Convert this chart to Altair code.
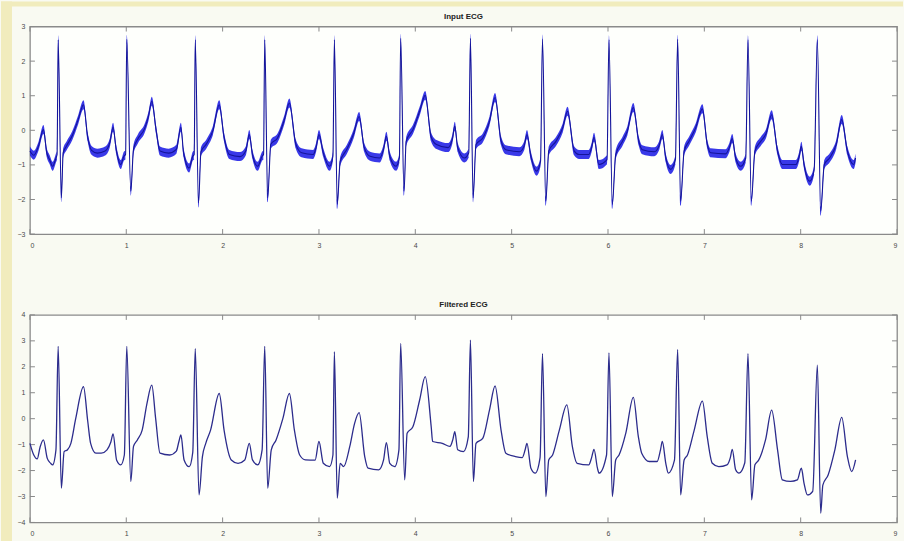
import altair as alt
import pandas as pd

# Raw (noisy) ECG trace: time in seconds, amplitude
input_t = [
    0.000, 0.040, 0.090, 0.140, 0.175, 0.205, 0.235, 0.270, 0.282, 0.293, 0.326, 0.345,
    0.380, 0.440, 0.500, 0.556, 0.600, 0.640, 0.700, 0.780, 0.830, 0.863, 0.895, 0.943,
    0.975, 0.993, 1.005, 1.047, 1.075, 1.120, 1.190, 1.230, 1.265, 1.310, 1.350, 1.440,
    1.520, 1.567, 1.595, 1.653, 1.690, 1.705, 1.716, 1.750, 1.775, 1.830, 1.900, 1.965,
    2.015, 2.070, 2.180, 2.240, 2.277, 2.310, 2.364, 2.410, 2.425, 2.437, 2.468, 2.500,
    2.570, 2.640, 2.693, 2.760, 2.820, 2.940, 2.970, 3.000, 3.045, 3.110, 3.145, 3.160,
    3.190, 3.220, 3.290, 3.360, 3.417, 3.470, 3.530, 3.630, 3.670, 3.700, 3.735, 3.800,
    3.835, 3.848, 3.883, 3.905, 3.975, 4.045, 4.103, 4.165, 4.220, 4.340, 4.385, 4.410,
    4.440, 4.510, 4.555, 4.572, 4.600, 4.630, 4.700, 4.770, 4.828, 4.890, 4.940, 5.080,
    5.130, 5.159, 5.200, 5.259, 5.300, 5.320, 5.355, 5.385, 5.460, 5.530, 5.580, 5.650,
    5.700, 5.800, 5.830, 5.855, 5.905, 5.990, 6.010, 6.045, 6.080, 6.150, 6.200, 6.263,
    6.320, 6.356, 6.480, 6.530, 6.564, 6.600, 6.650, 6.700, 6.723, 6.754, 6.790, 6.840,
    6.910, 6.980, 7.030, 7.066, 7.220, 7.260, 7.290, 7.325, 7.377, 7.430, 7.453, 7.488,
    7.525, 7.585, 7.640, 7.699, 7.760, 7.810, 7.950, 7.985, 8.007, 8.035, 8.094, 8.140,
    8.173, 8.208, 8.245, 8.300, 8.370, 8.426, 8.485, 8.550, 8.570,
]
input_v = [
    -0.60, -0.72, -0.45, 0.02, -0.65, -0.85, -1.04, -0.80, -0.70, 2.62, -1.95, -0.65,
    -0.45, -0.15, 0.30, 0.74, -0.20, -0.58, -0.66, -0.60, -0.35, 0.09, -0.55, -0.99,
    -0.75, -0.70, 2.63, -1.76, -0.55, -0.25, 0.05, 0.40, 0.84, 0.00, -0.60, -0.66,
    -0.55, 0.09, -0.65, -1.09, -0.75, -0.70, 2.62, -2.10, -0.62, -0.40, 0.00, 0.74,
    -0.20, -0.70, -0.76, -0.60, -0.12, -0.70, -1.04, -0.75, -0.70, 2.62, -1.95, -0.40,
    -0.22, 0.30, 0.79, -0.40, -0.65, -0.70, -0.50, -0.12, -0.65, -1.04, -0.75, 2.62,
    -2.14, -0.90, -0.55, -0.10, 0.40, -0.50, -0.75, -0.80, -0.55, -0.17, -0.75, -1.04,
    -0.80, 2.66, -1.76, -0.32, 0.02, 0.55, 1.01, -0.20, -0.41, -0.50, -0.25, 0.12,
    -0.50, -0.80, -0.65, 2.66, -1.95, -0.41, -0.22, 0.26, 0.95, -0.30, -0.56, -0.62,
    -0.45, -0.12, -0.75, -1.18, -0.90, 2.64, -2.05, -0.60, -0.32, 0.07, 0.55, -0.60,
    -0.70, -0.70, -0.50, -0.20, -0.99, -0.85, 2.62, -2.14, -0.70, -0.32, -0.03, 0.66,
    -0.32, -0.56, -0.62, -0.45, -0.12, -0.80, -1.13, -0.85, 2.63, -2.05, -0.60, -0.32,
    0.07, 0.62, -0.40, -0.65, -0.68, -0.50, -0.24, -0.80, -1.04, -0.80, 2.62, -2.05,
    -0.60, -0.32, -0.10, 0.45, -0.60, -0.99, -0.99, -0.75, -0.46, -0.99, -1.47, -1.15,
    2.62, -2.34, -0.99, -0.80, -0.40, 0.31, -0.60, -0.99, -0.80,
]

# Filtered ECG trace
filtered_t = [
    0.000, 0.040, 0.075, 0.105, 0.140, 0.180, 0.215, 0.235, 0.270, 0.293, 0.326, 0.355,
    0.390, 0.425, 0.475, 0.556, 0.600, 0.630, 0.685, 0.740, 0.800, 0.840, 0.863, 0.900,
    0.943, 0.980, 1.005, 1.047, 1.075, 1.115, 1.165, 1.215, 1.265, 1.305, 1.350, 1.450,
    1.520, 1.545, 1.567, 1.600, 1.653, 1.690, 1.716, 1.755, 1.790, 1.825, 1.875, 1.965,
    2.015, 2.090, 2.160, 2.230, 2.277, 2.310, 2.364, 2.410, 2.437, 2.468, 2.505, 2.555,
    2.625, 2.693, 2.745, 2.800, 2.860, 2.960, 3.000, 3.045, 3.110, 3.145, 3.160, 3.190,
    3.220, 3.255, 3.320, 3.370, 3.417, 3.475, 3.510, 3.620, 3.670, 3.700, 3.735, 3.786,
    3.830, 3.848, 3.890, 3.915, 3.975, 4.045, 4.103, 4.165, 4.180, 4.280, 4.360, 4.390,
    4.410, 4.440, 4.500, 4.550, 4.572, 4.603, 4.630, 4.700, 4.770, 4.828, 4.890, 4.940,
    5.040, 5.110, 5.140, 5.159, 5.200, 5.245, 5.295, 5.320, 5.355, 5.385, 5.425, 5.495,
    5.573, 5.630, 5.680, 5.800, 5.830, 5.855, 5.890, 5.907, 5.985, 6.010, 6.045, 6.080,
    6.115, 6.185, 6.263, 6.315, 6.350, 6.430, 6.510, 6.545, 6.564, 6.600, 6.626, 6.690,
    6.723, 6.754, 6.790, 6.825, 6.895, 6.980, 7.030, 7.083, 7.150, 7.235, 7.270, 7.290,
    7.325, 7.360, 7.420, 7.453, 7.491, 7.525, 7.565, 7.635, 7.699, 7.760, 7.810, 7.895,
    7.965, 8.007, 8.035, 8.070, 8.125, 8.173, 8.208, 8.230, 8.285, 8.355, 8.426, 8.485,
    8.530, 8.570,
]
filtered_v = [
    -0.95, -1.40, -1.55, -1.10, -0.82, -1.53, -1.72, -1.78, -1.20, 2.79, -2.68, -1.27,
    -1.20, -0.95, 0.00, 1.23, -0.10, -0.95, -1.33, -1.33, -1.20, -0.90, -0.59, -1.60,
    -1.78, -1.40, 2.79, -2.42, -1.07, -0.82, -0.44, 0.59, 1.29, 0.00, -1.33, -1.40,
    -1.25, -0.90, -0.63, -1.59, -1.85, -1.30, 2.70, -2.94, -1.47, -0.95, -0.44, 0.97,
    -0.44, -1.59, -1.72, -1.59, -0.95, -1.59, -1.78, -1.20, 2.79, -2.68, -1.20, -0.82,
    0.00, 0.97, -0.44, -1.40, -1.59, -1.60, -0.88, -1.72, -1.85, -1.40, 2.58, -3.06,
    -1.72, -1.85, -1.07, -0.18, 0.23, -1.46, -1.91, -1.97, -1.60, -0.92, -1.72, -1.85,
    -1.20, 2.90, -2.36, -0.56, -0.31, 0.72, 1.62, -0.31, -0.88, -0.95, -1.07, -0.80,
    -0.50, -1.20, -1.27, -0.70, 3.03, -2.42, -0.95, -0.76, 0.33, 1.26, -0.44, -1.33,
    -1.46, -1.50, -1.20, -0.95, -1.91, -2.10, -1.50, 2.51, -3.00, -1.59, -1.40, -0.44,
    0.53, -1.07, -1.72, -1.78, -1.50, -1.18, -1.90, -2.10, -1.40, 2.54, -3.00, -1.59,
    -1.40, -0.56, 0.82, -0.69, -1.33, -1.65, -1.65, -1.20, -0.88, -1.72, -2.10, -1.60,
    2.67, -2.94, -1.59, -1.40, -0.44, 0.68, -0.69, -1.72, -1.85, -1.78, -1.50, -1.18,
    -1.97, -2.10, -1.70, 2.51, -3.13, -1.78, -1.59, -0.82, 0.33, -1.20, -2.36, -2.42,
    -2.36, -1.91, -2.49, -2.94, -2.80, 2.06, -3.64, -2.56, -2.17, -1.20, 0.05, -1.46,
    -2.04, -1.59,
]

x_ticks = list(range(0, 10))
input_y_ticks = list(range(-3, 4))
filtered_y_ticks = list(range(-4, 5))

W, H = 869, 208
TICK = 5
FRAME = "#8a8a8a"
LABEL = "#4a4a4a"
FONT = "Liberation Sans"


def panel(trace, title, ydom, yticks, trace_layers, extra=None):
    x_scale = alt.Scale(domain=[0, 9], nice=False, zero=False)
    y_scale = alt.Scale(domain=ydom, nice=False, zero=False)
    x_axis = alt.Axis(values=x_ticks, ticks=False, domain=False, grid=False,
                      labelFontSize=7, labelColor=LABEL, labelFont=FONT,
                      labelPadding=7, title=None, format="d")
    y_axis = alt.Axis(values=yticks, ticks=False, domain=False, grid=False,
                      labelFontSize=7, labelColor=LABEL, labelFont=FONT,
                      labelPadding=5, title=None, format="d")
    x_enc = alt.X("t:Q", scale=x_scale, axis=x_axis)
    y_enc = alt.Y("v:Q", scale=y_scale, axis=y_axis)
    xt = pd.DataFrame({"t": x_ticks})
    yt = pd.DataFrame({"v": yticks})
    tick_style = dict(color=FRAME, strokeWidth=1)
    ticks = [
        alt.Chart(xt).mark_rule(**tick_style).encode(x=x_enc, y=alt.value(H), y2=alt.value(H - TICK)),
        alt.Chart(xt).mark_rule(**tick_style).encode(x=x_enc, y=alt.value(0), y2=alt.value(TICK)),
        alt.Chart(yt).mark_rule(**tick_style).encode(y=y_enc, x=alt.value(0), x2=alt.value(TICK)),
        alt.Chart(yt).mark_rule(**tick_style).encode(y=y_enc, x=alt.value(W - TICK), x2=alt.value(W)),
    ]
    # Panel heading, centred above the frame
    heading = alt.Chart(pd.DataFrame({"label": [title]})).mark_text(
        font=FONT, fontSize=8, fontWeight="bold", color="#222222",
        align="center", baseline="middle",
    ).encode(x=alt.value(W / 2), y=alt.value(-10), text="label:N")
    traces = [lay(alt.Chart(trace), x_enc, y_scale, y_axis) for lay in trace_layers]
    return alt.layer(*((extra or []) + ticks + traces + [heading])).properties(
        width=W, height=H,
    )


input_df = pd.DataFrame({"t": input_t, "v": input_v})
filtered_df = pd.DataFrame({"t": filtered_t, "v": filtered_v})


def noise_band(base, x_enc, y_scale, y_axis):
    # Envelope of the high-frequency noise riding on the raw signal
    return base.transform_calculate(lo="datum.v - 0.13", hi="datum.v + 0.13").mark_area(
        color="#2323e6", opacity=0.9, interpolate="monotone"
    ).encode(x=x_enc, y=alt.Y("lo:Q", scale=y_scale, axis=y_axis), y2="hi:Q")


def raw_line(base, x_enc, y_scale, y_axis):
    return base.mark_line(color="#14149a", strokeWidth=1.1, interpolate="monotone").encode(
        x=x_enc, y=alt.Y("v:Q", scale=y_scale, axis=y_axis))


def filtered_line(base, x_enc, y_scale, y_axis):
    return base.mark_line(color="#2c2c8c", strokeWidth=1.3, interpolate="monotone").encode(
        x=x_enc, y=alt.Y("v:Q", scale=y_scale, axis=y_axis))


# Pale yellow page edge along the left and top of the figure
edge = pd.DataFrame({"k": [0]})
edges = [
    alt.Chart(edge).mark_rect(color="#f1ecbd").encode(
        x=alt.value(-29), x2=alt.value(-18), y=alt.value(-25), y2=alt.value(516)),
    alt.Chart(edge).mark_rect(color="#f1ecbd").encode(
        x=alt.value(-29), x2=alt.value(875), y=alt.value(-25), y2=alt.value(-20)),
]

top = panel(input_df, "Input ECG", [-3, 3], input_y_ticks, [noise_band, raw_line], extra=edges)
bottom = panel(filtered_df, "Filtered ECG", [-4, 4], filtered_y_ticks, [filtered_line])

chart = alt.vconcat(top, bottom, spacing=81, bounds="flush").properties(
    padding=0
).configure(
    background="#f9faf2"
).configure_view(
    stroke=FRAME, strokeWidth=1.3, fill="#fefffc"
)

chart.save("out.html", embed_options={"renderer": "svg", "actions": False})
